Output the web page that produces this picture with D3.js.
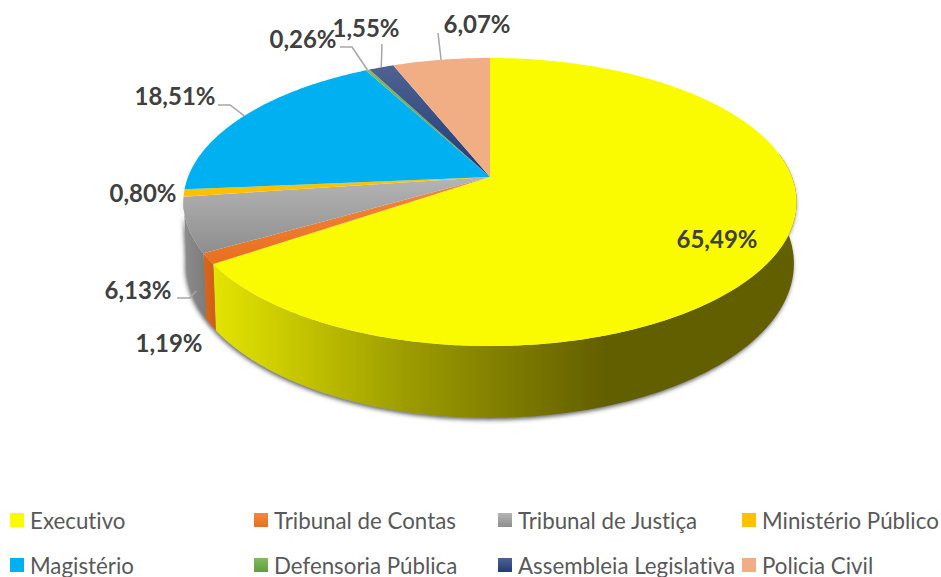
<!DOCTYPE html>
<html lang="pt">

<head>
	<meta charset="utf-8">
	<style>
		body {
			margin: 0;
			background-color: white;
		}

		svg {
			display: block;
			font-family: 'Lato';
			font-variant-ligatures: none;
		}

		.label {
			fill: #404040;
			font-size: 24px;
			font-weight: 700;
			text-anchor: middle;
			dominant-baseline: central;
		}

		.leader {
			fill: none;
			stroke: #a6a6a6;
			stroke-width: 1.5px;
		}

		.legend text {
			fill: #595959;
			font-size: 22.3px;
			dominant-baseline: central;
		}
	</style>
</head>

<body>
	<svg width=941 height=577></svg>
	<script src="https://d3js.org/d3.v7.min.js"></script>
	<script>
		//values
		const categories = ["Executivo", "Tribunal de Contas", "Tribunal de Justiça", "Ministério Público",
			"Magistério", "Defensoria Pública", "Assembleia Legislativa", "Policia Civil"]
		const values = [65.49, 1.19, 6.13, 0.80, 18.51, 0.26, 1.55, 6.07]
		const lightColors = ["#fbfb00", "#f4873f", "#b4b4b4", "#ffc000", "#00b0f0", "#84b962", "#4f6391", "#f1ae84"]
		const darkColors = ["#fbfb00", "#e8701f", "#8e8e8e", "#ffc000", "#00b0f0", "#5f9e3a", "#1f3a78", "#f1ae84"]

		//label centres, and the elbow of the leader line where there is one
		const labelAt = [[717, 238], [169, 342], [138, 289], [143, 192], [175, 95], [303, 38], [366, 27], [477, 23]]
		const leaderFrom = [null, null, [177, 298], null, [218, 105], [340, 47], [382, 44], [438, 33]]
		const leaderElbow = [null, null, [190, 298], null, [230, 105], [352, 47], null, null]

		const svg = d3.select("svg")
		const defs = svg.append("defs")

		//pie seen in perspective: the circle maps onto an ellipse whose centre is not the apex
		const apex = { x: 490, y: 177 }
		const k = 0.1736
		const project = function (a, floor) {
			const u = Math.sin(a), v = -Math.cos(a)
			const w = 1 - k * v
			if (floor) return [apex.x + 0.99 * 302.3 * u / w, 237 + 1.07 * 139.7 * v / w]
			return [apex.x + 302 * u / w, apex.y + 139.7 * v / w]
		}

		const pie = d3.pie().sort(null).value(d => d)
		const slices = pie(values)
		const line = d3.line()

		const arcPoints = function (a0, a1, floor) {
			const n = Math.max(2, Math.ceil((a1 - a0) / 0.01))
			return d3.range(n + 1).map(i => project(a0 + (a1 - a0) * i / n, floor))
		}

		//gradients, one per series, used by the faces and the legend keys
		categories.forEach(function (c, i) {
			const g = defs.append("linearGradient").attr("id", "top-" + i)
				.attr("x1", 0).attr("y1", 0).attr("x2", 0).attr("y2", 1)
			g.append("stop").attr("offset", 0).attr("stop-color", lightColors[i])
			g.append("stop").attr("offset", 1).attr("stop-color", darkColors[i])
		})

		const wallStops = [
			[[0, "#e4e400"], [0.16, "#c2c200"], [0.33, "#9c9c00"], [0.6, "#6f6b00"], [0.68, "#625e00"], [1, "#625e00"]],
			[[0, "#d9661b"], [1, "#cf5f18"]],
			[[0, "#8c8c8c"], [1, "#7c7c7c"]]
		]
		wallStops.forEach(function (stops, i) {
			const g = defs.append("linearGradient").attr("id", "wall-" + i)
				.attr("x1", 0).attr("y1", 0).attr("x2", 1).attr("y2", 0)
			stops.forEach(s => g.append("stop").attr("offset", s[0]).attr("stop-color", s[1]))
		})

		const shadow = defs.append("filter").attr("id", "shadow")
			.attr("x", "-10%").attr("y", "-10%").attr("width", "120%").attr("height", "120%")
		shadow.append("feDropShadow").attr("dx", -1).attr("dy", 2).attr("stdDeviation", 2)
			.attr("flood-color", "#404040").attr("flood-opacity", 0.8)

		//outer wall, only the part facing the viewer
		const visibleFrom = 80 * Math.PI / 180
		const visibleTo = 262 * Math.PI / 180
		const walls = svg.append("g").attr("filter", "url(#shadow)")
		slices.forEach(function (d, i) {
			const a0 = Math.max(d.startAngle, visibleFrom)
			const a1 = Math.min(d.endAngle, visibleTo)
			if (a1 <= a0) return
			const pts = arcPoints(a0, a1, false).concat(arcPoints(a0, a1, true).reverse())
			walls.append("path")
				.attr("d", line(pts) + "Z")
				.attr("fill", "url(#wall-" + i + ")")
		})

		//top faces
		svg.append("g").selectAll("path")
			.data(slices)
			.join("path")
			.attr("d", d => line([[apex.x, apex.y]].concat(arcPoints(d.startAngle, d.endAngle, false))) + "Z")
			.attr("fill", (d, i) => "url(#top-" + i + ")")

		//leader lines run from the label to the rim at the middle of the slice
		const leaders = svg.append("g")
		slices.forEach(function (d, i) {
			if (!leaderFrom[i]) return
			const end = project((d.startAngle + d.endAngle) / 2, false)
			const pts = [leaderFrom[i]]
			if (leaderElbow[i]) pts.push(leaderElbow[i])
			pts.push(i == 2 ? [196, 291] : end)
			leaders.append("path").attr("class", "leader").attr("d", line(pts))
		})

		const pct = v => d3.format(".2f")(v).replace(".", ",") + "%"
		svg.append("g").selectAll("text")
			.data(values)
			.join("text")
			.attr("class", "label")
			.attr("x", (d, i) => labelAt[i][0])
			.attr("y", (d, i) => labelAt[i][1])
			.text(pct)

		//legend, four columns by two rows
		const legendX = d3.scalePoint().domain(d3.range(4)).range([10, 742])
		const legendY = d3.scalePoint().domain(d3.range(2)).range([513, 558])
		const legend = svg.append("g").attr("class", "legend")
			.selectAll("g")
			.data(categories)
			.join("g")
			.attr("transform", (d, i) => "translate(" + legendX(i % 4) + "," + legendY(Math.floor(i / 4)) + ")")
		legend.append("rect")
			.attr("width", 14)
			.attr("height", 14)
			.attr("fill", (d, i) => "url(#top-" + i + ")")
		legend.append("text")
			.attr("x", 20)
			.attr("y", 7)
			.text(d => d)
	</script>
</body>

</html>
